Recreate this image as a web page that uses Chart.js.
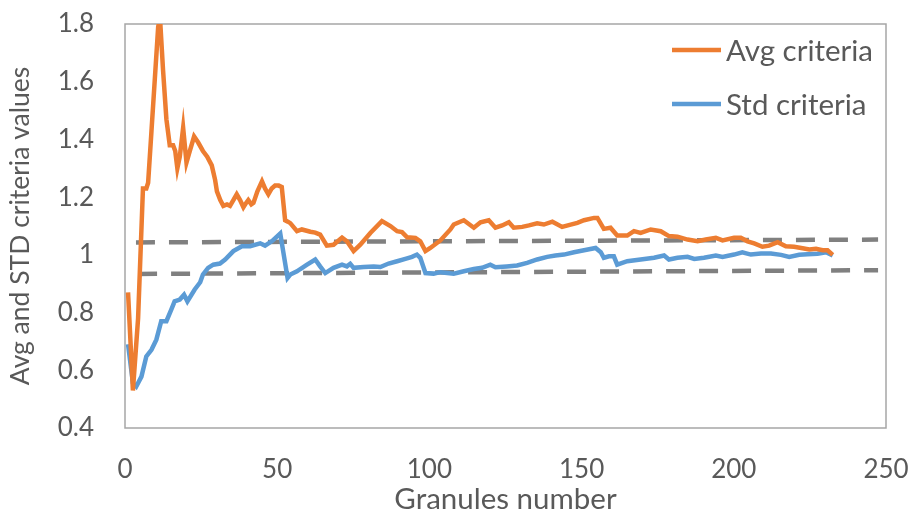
<!DOCTYPE html>
<html>
<head>
<meta charset="utf-8">
<script src="https://cdn.jsdelivr.net/npm/chart.js@4.4.1/dist/chart.umd.min.js"></script>
<style>
  html, body { margin: 0; padding: 0; background: #fff; }
  #wrap { width: 911px; height: 517px; }
</style>
</head>
<body>
<div id="wrap"><canvas id="graph"></canvas></div>
<script>
// values (granule number -> criteria value)
const avgX = [1, 2.6, 4.3, 5.9, 7, 7.6, 8.7, 9.8, 10.9, 11.5, 12.5, 13.6, 14.7, 15.8, 16.5, 17.2, 18, 19.1, 20.2, 21.3, 22.7, 24, 25.6, 27, 28.5, 29.6, 30.2, 31.3, 32.3, 33.5, 34.5, 35.6, 36.7, 37.8, 38.9, 39.8, 40.5, 41.5, 42.2, 43.5, 45, 46, 47.1, 48.2, 49.3, 50.5, 51.5, 52.6, 53.5, 54.3, 56.5, 58.1, 60.9, 62.5, 64.1, 66.3, 68.5, 71.3, 72.9, 75.1, 77.3, 80.6, 84.4, 87.2, 89.4, 91, 92.7, 95.4, 97, 98.7, 100.3, 103.6, 106.9, 108, 111.3, 114.6, 116.8, 119.5, 121.7, 123.9, 126.1, 127.7, 130.5, 132.7, 135.4, 137.6, 140.4, 143.6, 146.4, 148.6, 150.8, 154.1, 155.2, 157.3, 159.5, 161.7, 165, 167.2, 169.4, 172.7, 176, 178.7, 181.5, 184.8, 188.1, 190.8, 194.1, 196.3, 200.1, 202.3, 204.5, 206.7, 209.4, 211.6, 214.4, 217.1, 219.8, 222.6, 224.8, 227, 229.2, 230.8, 232.5]
const avgY = [0.87, 0.53, 0.78, 1.23, 1.23, 1.25, 1.43, 1.61, 1.79, 1.82, 1.64, 1.47, 1.38, 1.38, 1.36, 1.30, 1.34, 1.44, 1.32, 1.36, 1.41, 1.39, 1.36, 1.34, 1.31, 1.26, 1.22, 1.19, 1.17, 1.175, 1.17, 1.19, 1.21, 1.19, 1.165, 1.18, 1.19, 1.175, 1.18, 1.22, 1.255, 1.23, 1.21, 1.23, 1.24, 1.24, 1.235, 1.12, 1.115, 1.11, 1.082, 1.088, 1.08, 1.077, 1.07, 1.032, 1.035, 1.06, 1.047, 1.013, 1.035, 1.076, 1.117, 1.10, 1.082, 1.079, 1.061, 1.059, 1.047, 1.013, 1.024, 1.05, 1.088, 1.105, 1.12, 1.094, 1.113, 1.12, 1.094, 1.102, 1.113, 1.094, 1.097, 1.102, 1.109, 1.105, 1.115, 1.097, 1.105, 1.111, 1.12, 1.128, 1.128, 1.09, 1.094, 1.067, 1.067, 1.082, 1.076, 1.088, 1.082, 1.065, 1.063, 1.053, 1.047, 1.053, 1.059, 1.05, 1.059, 1.059, 1.047, 1.04, 1.028, 1.032, 1.044, 1.03, 1.028, 1.023, 1.019, 1.021, 1.016, 1.016, 1.0]

const stdX = [1, 2.6, 3.7, 5.4, 7, 8.7, 10.3, 11.9, 13.6, 15.2, 16.3, 18, 19.4, 20.5, 22.9, 24.7, 25.6, 27.3, 29, 31.2, 32.9, 35.6, 38.4, 41.1, 44.4, 46, 48.2, 51, 53.4, 54.3, 56.5, 57.6, 59.8, 62.5, 64.1, 65.8, 68.5, 71.3, 72.9, 74, 75.1, 78.4, 81.7, 83.9, 86.6, 89.4, 92.1, 94.3, 95.9, 97, 98.7, 101.4, 103.6, 108, 111.3, 114.6, 117.3, 120, 121.7, 125.4, 128.8, 132.1, 135.4, 138.7, 141.4, 144.2, 147.5, 150.8, 154.6, 156.3, 157.3, 159, 160.6, 161.7, 165, 169.4, 173.8, 177.1, 178.7, 181.5, 184.8, 187, 190.2, 194.1, 196.3, 200.1, 202.8, 205.6, 208.9, 212.2, 215.5, 218.2, 221.5, 224.2, 227.5, 230.3, 232.5]
const stdY = [0.69, 0.556, 0.544, 0.578, 0.648, 0.671, 0.706, 0.77, 0.77, 0.81, 0.839, 0.845, 0.862, 0.839, 0.88, 0.905, 0.932, 0.955, 0.966, 0.97, 0.984, 1.013, 1.03, 1.03, 1.04, 1.032, 1.047, 1.074, 0.92, 0.932, 0.943, 0.951, 0.966, 0.984, 0.96, 0.937, 0.955, 0.966, 0.96, 0.969, 0.955, 0.958, 0.96, 0.958, 0.97, 0.978, 0.986, 0.993, 1.001, 0.99, 0.937, 0.935, 0.94, 0.935, 0.943, 0.951, 0.955, 0.966, 0.957, 0.96, 0.963, 0.972, 0.984, 0.993, 0.998, 1.001, 1.009, 1.016, 1.024, 1.009, 0.99, 0.995, 0.995, 0.966, 0.978, 0.984, 0.99, 0.998, 0.984, 0.99, 0.993, 0.986, 0.99, 0.998, 0.993, 1.001, 1.009, 1.001, 1.005, 1.005, 1.0, 0.993, 1.0, 1.002, 1.004, 1.009, 0.998]

// the two dashed reference lines (start / end)
const upperX = [3.6, 247.4]
const upperY = [1.043, 1.053]
const lowerX = [4.3, 247.4]
const lowerY = [0.934, 0.947]

const seriesNames = ['Avg criteria', 'Std criteria']
const xTicks = [0, 50, 100, 150, 200, 250]
const yTicks = [0.4, 0.6, 0.8, 1, 1.2, 1.4, 1.6, 1.8]

const pts = (xs, ys) => xs.map((x, i) => ({ x: x, y: ys[i] }))
const textColor = '#595959'
const fontFamily = 'Lato, "Noto Sans", sans-serif'

// plot frame + legend drawn inside the plot area, like the Excel original
const frameAndLegend = {
    id: 'frameAndLegend',
    beforeDatasetsDraw(chart) {
        const { ctx, chartArea: a } = chart
        ctx.save()
        ctx.strokeStyle = '#A6A6A6'
        ctx.lineWidth = 1.5
        ctx.strokeRect(a.left, a.top, a.right - a.left, a.bottom - a.top)
        ctx.restore()
    },
    afterDraw(chart) {
        const { ctx } = chart
        ctx.save()
        ctx.font = '29.5px ' + fontFamily
        ctx.textBaseline = 'middle'
        ctx.fillStyle = textColor
        ;[0, 1].forEach(i => {
            const ds = chart.data.datasets[i]
            const y = 50 + i * 54
            ctx.strokeStyle = ds.borderColor
            ctx.lineWidth = 4.5
            ctx.beginPath()
            ctx.moveTo(672, y)
            ctx.lineTo(721, y)
            ctx.stroke()
            ctx.fillText(ds.label, 726, y + 1)
        })
        ctx.restore()
    }
}

new Chart(document.querySelector('#graph'), {
    type: 'line',
    data: {
        datasets: [
            { label: seriesNames[0], data: pts(avgX, avgY), borderColor: '#ED7D31', borderWidth: 4.5 },
            { label: seriesNames[1], data: pts(stdX, stdY), borderColor: '#5B9BD5', borderWidth: 4.5 },
            { label: 'upper', data: pts(upperX, upperY), borderColor: '#808080', borderWidth: 4.5, borderDash: [19, 14] },
            { label: 'lower', data: pts(lowerX, lowerY), borderColor: '#808080', borderWidth: 4.5, borderDash: [19, 14] }
        ]
    },
    options: {
        responsive: true,
        maintainAspectRatio: false,
        animation: false,
        elements: { point: { radius: 0 }, line: { tension: 0, borderCapStyle: 'butt' } },
        layout: { padding: { top: 24, right: 25, left: 0, bottom: 0 } },
        plugins: { legend: { display: false }, tooltip: { enabled: false } },
        scales: {
            x: {
                type: 'linear',
                min: 0, max: 250,
                afterBuildTicks: s => { s.ticks = xTicks.map(v => ({ value: v })) },
                afterFit: s => { s.height = 89; s.paddingLeft = 0; s.paddingRight = 0 },
                grid: { display: false, drawTicks: false },
                border: { display: false },
                ticks: { color: textColor, font: { family: fontFamily, size: 26 }, padding: 26, maxRotation: 0, callback: v => String(v) },
                title: { display: true, text: 'Granules number', color: textColor, font: { family: fontFamily, size: 29.5 }, padding: { top: 0, bottom: 0 } }
            },
            y: {
                min: 0.4, max: 1.8,
                afterBuildTicks: s => { s.ticks = yTicks.map(v => ({ value: v })) },
                afterFit: s => { s.width = 125; s.paddingTop = 0; s.paddingBottom = 0 },
                grid: { display: false, drawTicks: false },
                border: { display: false },
                ticks: { color: textColor, font: { family: fontFamily, size: 26 }, padding: 31, callback: v => String(v) },
                title: { display: true, text: 'Avg and STD criteria values', color: textColor, font: { family: fontFamily, size: 26.5 }, padding: { top: 5, bottom: 0 } }
            }
        }
    },
    plugins: [frameAndLegend]
})
</script>
</body>
</html>
